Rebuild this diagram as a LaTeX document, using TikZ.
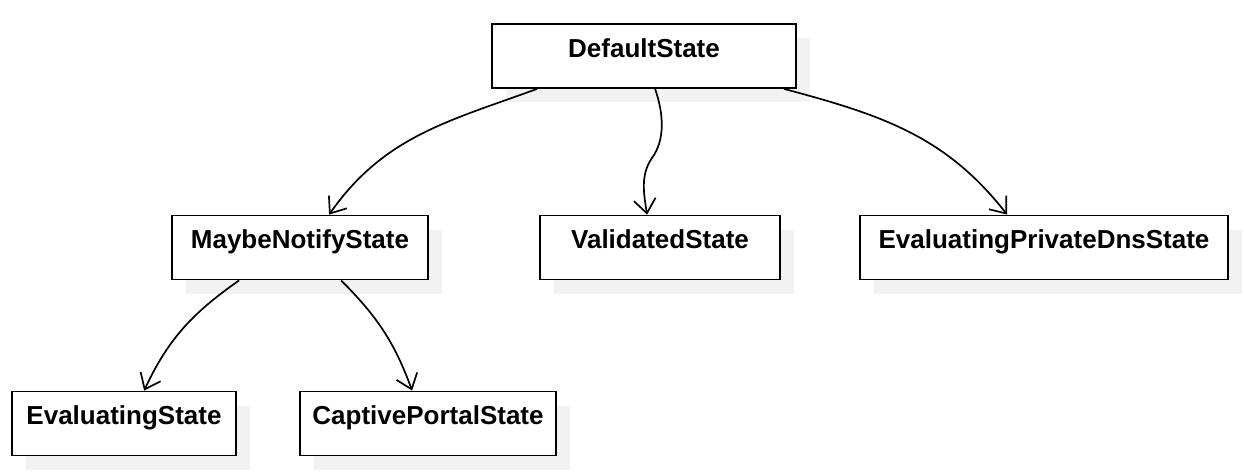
\documentclass[tikz,border=0pt]{standalone}
\usepackage{fontspec}
\setmainfont{Liberation Sans}
\usetikzlibrary{arrows.meta,shadows}
\begin{document}
\begin{tikzpicture}[x=1pt,y=-1pt,
  statebox/.style={draw,line width=1.8pt,fill=white,inner xsep=0pt,inner ysep=0pt,
    text height=33pt,text depth=31pt,font=\fontsize{26}{30}\selectfont\bfseries,
    general shadow={fill=black!5,shadow xshift=14pt,shadow yshift=-14pt}},
  trans/.style={line width=1.7pt,-{Straight Barb[length=14pt,width=22pt,line width=1.7pt]}}]
\useasboundingbox (0,0) rectangle (1244,474);
% states
\node[statebox,minimum width=304pt] (default) at (644,56) {DefaultState};
\node[statebox,minimum width=256pt] (maybe) at (300,247.5) {MaybeNotifyState};
\node[statebox,minimum width=240pt] (valid) at (660,247.5) {ValidatedState};
\node[statebox,minimum width=368pt] (privdns) at (1044,247.5) {EvaluatingPrivateDnsState};
\node[statebox,minimum width=224pt] (eval) at (124,423.5) {EvaluatingState};
\node[statebox,minimum width=256pt] (portal) at (428,423.5) {CaptivePortalState};
% transitions
\draw[trans] ([xshift=46pt]default.south west) to[out=200,in=55] ([xshift=158pt]maybe.north west);
\draw[trans] ([xshift=164pt]default.south west)
 .. controls (664,115) and (665,140) .. (652,158)
 .. controls (640,175) and (644,195) .. ([xshift=108pt]valid.north west);
\draw[trans] ([xshift=293pt]default.south west) to[out=-15,in=128] ([xshift=148pt]privdns.north west);
\draw[trans] ([xshift=68pt]maybe.south west) to[out=215,in=65] ([xshift=133pt]eval.north west);
\draw[trans] ([xshift=170pt]maybe.south west) to[out=-45,in=110] ([xshift=113pt]portal.north west);
\end{tikzpicture}
\end{document}
